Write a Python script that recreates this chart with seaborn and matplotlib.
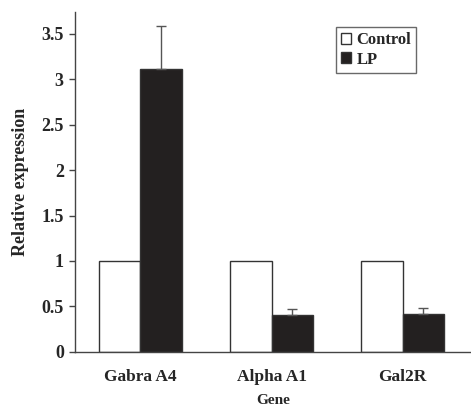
import numpy as np
import pandas as pd
import seaborn as sns
import matplotlib.pyplot as plt

genes = ["Gabra A4", "Alpha A1", "Gal2R"]
groups = ["Control", "LP"]
control = [1.0, 1.0, 1.0]
lp = [3.11, 0.40, 0.42]
lp_err = [0.47, 0.07, 0.06]

df = pd.DataFrame({
    "Gene": genes * 2,
    "Group": ["Control"] * 3 + ["LP"] * 3,
    "Relative expression": control + lp,
})

sns.set_style("white")
plt.rcParams['font.family'] = ['Liberation Serif', 'DejaVu Serif']
plt.rcParams['font.weight'] = 'bold'

fig = plt.figure(figsize=(4.71, 4.12), dpi=100)
ax = fig.add_axes([0.159, 0.146, 0.841, 0.825])

sns.barplot(data=df, x="Gene", y="Relative expression", hue="Group",
            palette=["white", "#231f20"], edgecolor="#333333", linewidth=1.0,
            width=0.63, ax=ax, legend=True)

# upward-only error bars on LP bars
bw = 0.63 / 2
x_lp = np.arange(len(genes)) + bw / 2
ax.errorbar(x_lp, lp, yerr=[np.zeros(len(lp)), lp_err], fmt="none",
            ecolor="#555555", elinewidth=1.0, capsize=3.5, capthick=1.0)

ax.set_xlim(-0.5, 2.52)
ax.set_ylim(0, 3.74)
ax.set_yticks([0, 0.5, 1, 1.5, 2, 2.5, 3, 3.5])
ax.set_yticklabels(["0", "0.5", "1", "1.5", "2", "2.5", "3", "3.5"])
ax.set_xticks(range(len(genes)))
ax.set_xticklabels(genes)
ax.set_xticks([-0.5, 0.5, 1.5], minor=True)
ax.tick_params(axis="x", which="major", length=0, pad=12, labelsize=12.5)
ax.tick_params(axis="x", which="minor", length=4, width=1, color="#444444", direction="out")
ax.tick_params(axis="y", length=4, width=1, color="#444444", direction="out", labelsize=13, pad=4)
ax.tick_params(left=True, bottom=True)

for s in ["top", "right"]:
    ax.spines[s].set_visible(False)
for s in ["left", "bottom"]:
    ax.spines[s].set_color("#444444")
    ax.spines[s].set_linewidth(1.0)

ax.set_xlabel("Gene", fontsize=11, fontweight="bold", labelpad=7)
ax.set_ylabel("Relative expression", fontsize=13, fontweight="bold", labelpad=9)

leg = ax.legend(loc="upper left", bbox_to_anchor=(0.66, 0.955), frameon=True,
                fancybox=False, edgecolor="#444444", fontsize=12,
                handlelength=0.6, handleheight=0.6, handletextpad=0.3,
                borderpad=0.3, labelspacing=0.2, borderaxespad=0)
leg.get_frame().set_linewidth(1.0)
for t in leg.get_texts():
    t.set_fontweight("bold")

fig.savefig("out.png", dpi=100)
